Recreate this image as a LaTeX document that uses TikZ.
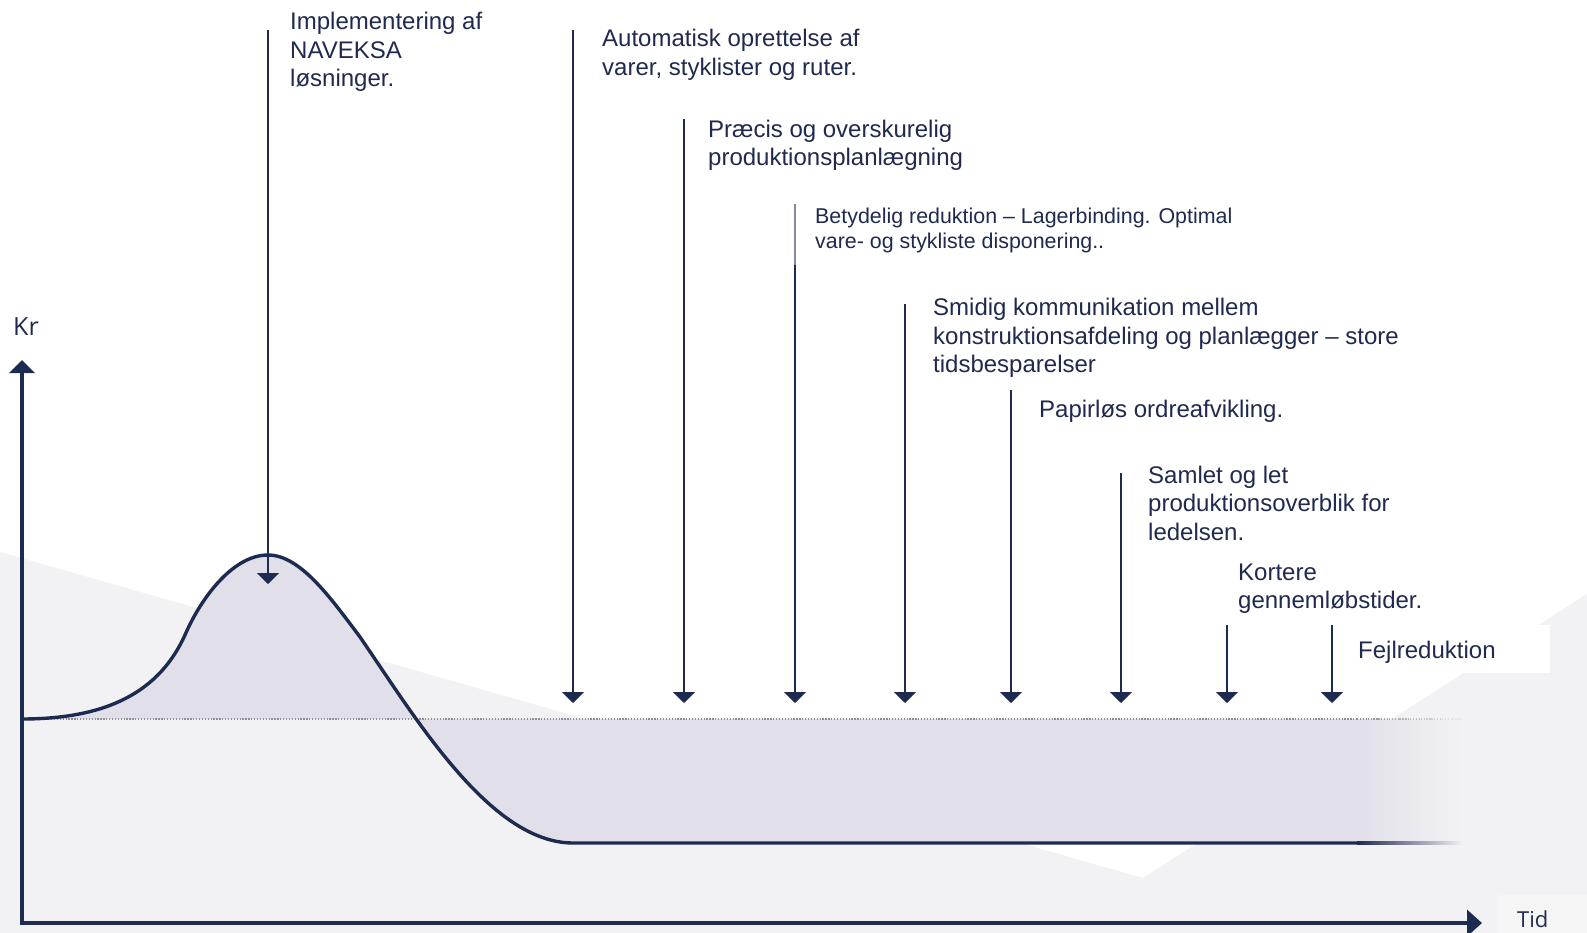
\documentclass[tikz,border=0pt]{standalone}
\usepackage{fontspec}
\setmainfont{Liberation Sans}
\newfontfamily\okfont{Open Sans}
\usetikzlibrary{arrows.meta}
\definecolor{navy}{HTML}{1E2B50}
\definecolor{txt}{HTML}{1F2A4E}
\definecolor{bggray}{HTML}{F2F2F4}
\definecolor{lav}{HTML}{E1E0EA}
\definecolor{dotgray}{HTML}{8E8E96}
\definecolor{tidbox}{HTML}{F5F5F6}
\begin{document}
\begin{tikzpicture}[x=1pt,y=-1pt,
  lbl/.style={anchor=base west, inner sep=0pt, text=txt, font={\fontsize{24}{28.5}\selectfont}},
  lblsmall/.style={anchor=base west, inner sep=0pt, text=txt, font={\fontsize{21.4}{25}\selectfont}},
  axlbl/.style={anchor=base west, inner sep=0pt, text=txt},
  arr/.style={draw=navy, line width=1.8pt, -{Triangle[width=22pt,length=11pt]}},
  axis/.style={draw=navy, line width=3.6pt, line join=miter},
  curve/.style={draw=navy, line width=3.4pt},
  dotline/.style={draw=dotgray, line width=1.3pt, dash pattern=on 1.3pt off 1.6pt}]
% background
\path[use as bounding box, fill=white] (0,0) rectangle (1587,933);
\fill[bggray] (0,552) -- (1143,878) -- (1587,594) -- (1587,933) -- (0,933) -- cycle;
\fill[white] (1346,625) rectangle (1550,673);
\fill[tidbox] (1497,895) rectangle (1587,933);
% coordinates of the curve
\coordinate (c0) at (22,719);
\coordinate (c1) at (185,635);
\coordinate (peak) at (268,555);
\coordinate (c3) at (360,637);
\coordinate (low) at (573,843);
\coordinate (fadeL) at (1357,843);
\coordinate (fadeB) at (1357,719);
% fill
\fill[lav] (c0) .. controls (110,719) and (160,690) .. (c1)
  .. controls (200,600) and (232,555) .. (peak)
  .. controls (300,555) and (330,597) .. (c3)
  .. controls (415,717) and (490,843) .. (low)
  -- (fadeL) -- (fadeB) -- cycle;
\shade[left color=lav, right color=bggray] (1357,719) rectangle (1463,843);
% dotted base line
\draw[dotline] (c0) -- (fadeB);
\foreach \i in {0,...,9}{
  \draw[dotline, draw opacity={1-\i/10}] (1357+\i*10.6,719) -- (1357+\i*10.6+10.6,719);
}
% curve
\draw[curve] (c0) .. controls (110,719) and (160,690) .. (c1)
  .. controls (200,600) and (232,555) .. (peak)
  .. controls (300,555) and (330,597) .. (c3)
  .. controls (415,717) and (490,843) .. (low)
  -- (fadeL);
\shade[left color=navy, right color=bggray] (1357,841.3) rectangle (1463,844.7);
% axes
\coordinate (ytop) at (22,360);
\coordinate (origin) at (22,923);
\coordinate (xend) at (1482,923);
\draw[axis, {Triangle[width=25pt,length=13pt]}-{Triangle[width=26pt,length=15pt]}] (ytop) -- (origin) -- (xend);
\node[axlbl, font={\okfont\fontsize{25}{30}\selectfont}] (kr) at (13,335) {Kr};
\node[axlbl, font={\okfont\fontsize{22}{26}\selectfont}] (tid) at (1517,927) {Tid};
% arrows
\coordinate (a1t) at (268,30);   \coordinate (a1b) at (268,584);
\coordinate (a2t) at (573,30);   \coordinate (a2b) at (573,703);
\coordinate (a3t) at (684,119);  \coordinate (a3b) at (684,703);
\coordinate (a4t) at (795,204);  \coordinate (a4m) at (795,265); \coordinate (a4b) at (795,703);
\coordinate (a5t) at (905,304);  \coordinate (a5b) at (905,703);
\coordinate (a6t) at (1011,390); \coordinate (a6b) at (1011,703);
\coordinate (a7t) at (1121,473); \coordinate (a7b) at (1121,703);
\coordinate (a8t) at (1227,625); \coordinate (a8b) at (1227,703);
\coordinate (a9t) at (1332,625); \coordinate (a9b) at (1332,703);
\draw[arr] (a1t) -- (a1b);
\draw[arr] (a2t) -- (a2b);
\draw[arr] (a3t) -- (a3b);
\draw[draw=navy!55, line width=1.3pt] (a4t) -- (a4m);
\draw[arr] (a4m) -- (a4b);
\draw[arr] (a5t) -- (a5b);
\draw[arr] (a6t) -- (a6b);
\draw[arr] (a7t) -- (a7b);
\draw[arr] (a8t) -- (a8b);
\draw[arr] (a9t) -- (a9b);
% labels
\node[lbl] (t1) at (290,30) {\vtop{\hbox{Implementering af}\hbox{NAVEKSA}\hbox{løsninger.}}};
\node[lbl] (t2) at (602,47) {\vtop{\hbox{Automatisk oprettelse af}\hbox{varer, styklister og ruter.}}};
\node[lbl] (t3) at (708,137.5) {\vtop{\hbox{Præcis og overskurelig}\hbox{produktionsplanlægning}}};
\node[lblsmall] (t4) at (815,223.3) {\vtop{\hbox{Betydelig reduktion – Lagerbinding. Optimal}\hbox{vare- og stykliste disponering..}}};
\node[lbl] (t5) at (933,316) {\vtop{\hbox{Smidig kommunikation mellem}\hbox{konstruktionsafdeling og planlægger – store}\hbox{tidsbesparelser}}};
\node[lbl] (t6) at (1039,417) {Papirløs ordreafvikling.};
\node[lbl] (t7) at (1148,483) {\vtop{\hbox{Samlet og let}\hbox{produktionsoverblik for}\hbox{ledelsen.}}};
\node[lbl] (t8) at (1238,580) {\vtop{\hbox{Kortere}\hbox{gennemløbstider.}}};
\node[lbl] (t9) at (1358,658) {Fejlreduktion};
\end{tikzpicture}
\end{document}
